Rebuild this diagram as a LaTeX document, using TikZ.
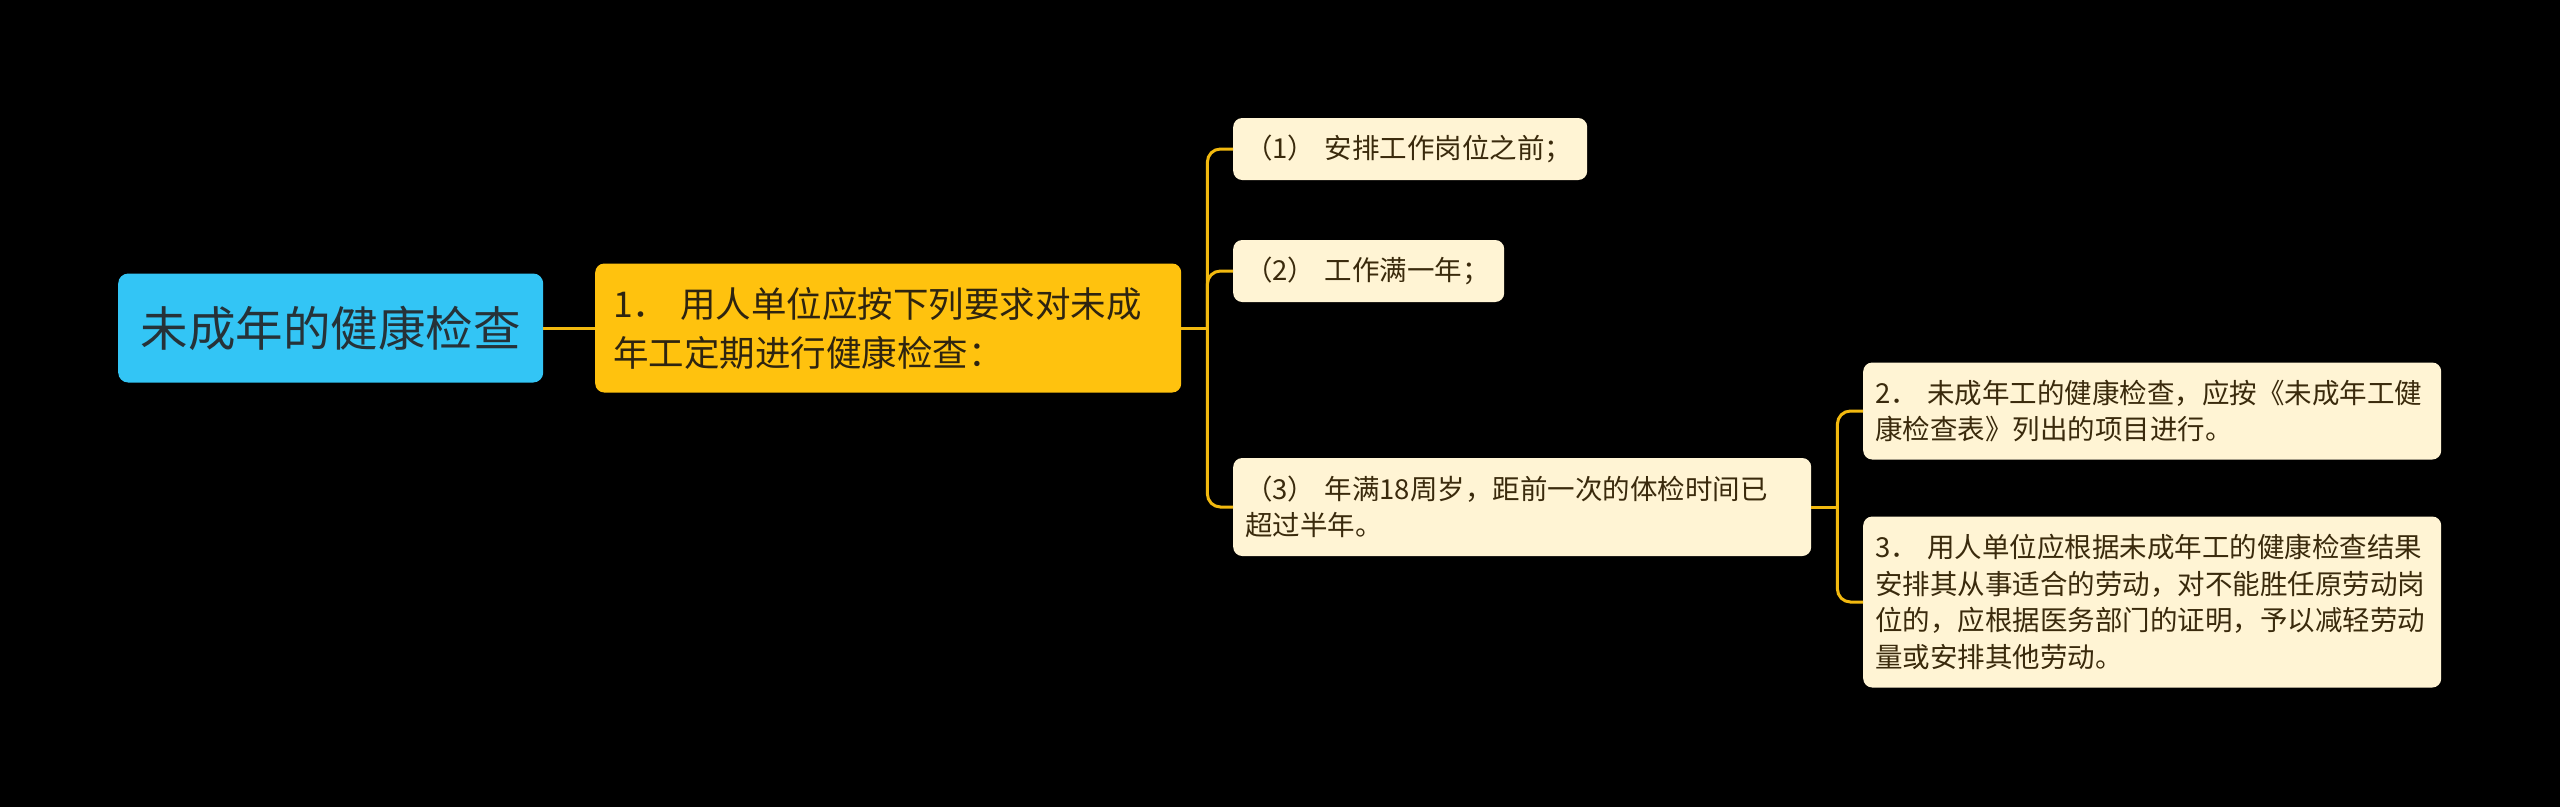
\documentclass[tikz,border=0pt]{standalone}
\usepackage{fontspec}
\setmainfont{Noto Sans CJK SC}
\definecolor{bgc}{HTML}{000000}
\definecolor{rootfill}{HTML}{33C5F5}
\definecolor{roottext}{HTML}{263238}
\definecolor{mainfill}{HTML}{FFC20E}
\definecolor{maintext}{HTML}{2E2410}
\definecolor{leaffill}{HTML}{FFF4D4}
\definecolor{leaftext}{HTML}{3A2A0C}
\definecolor{linec}{HTML}{F2B90F}
\tikzset{
  rootbox/.style={fill=rootfill, text=roottext, rounded corners=10pt, inner sep=0pt,
    font=\fontsize{47.5}{56}\selectfont, anchor=west},
  mainbox/.style={fill=mainfill, text=maintext, rounded corners=9pt, inner xsep=18pt, inner ysep=0pt,
    font=\fontsize{35.5}{49}\selectfont, align=left, anchor=west},
  leafbox/.style={fill=leaffill, text=leaftext, rounded corners=9pt, inner xsep=12pt, inner ysep=0pt,
    font=\fontsize{27.5}{36.5}\selectfont, align=left, anchor=west},
  conn/.style={draw=linec, line width=3pt},
  bconn/.style={draw=linec, line width=3pt, rounded corners=13pt}
}
\begin{document}
\begin{tikzpicture}[x=1pt,y=-1pt]
\fill[bgc] (0,0) rectangle (2560,807);
\useasboundingbox (0,0) rectangle (2560,807);

\node[rootbox, minimum width=425pt, minimum height=109pt] (root) at (118,328) {未成年的健康检查};

\node[mainbox, minimum width=586pt, text width=550pt, minimum height=129pt] (n1) at (595,328)
  {1．\ 用人单位应按下列要求对未成\\年工定期进行健康检查：};

\node[leafbox, minimum width=354pt, text width=330pt, minimum height=62pt] (c1) at (1233,149)
  {（1） 安排工作岗位之前；};
\node[leafbox, minimum width=271pt, text width=247pt, minimum height=62pt] (c2) at (1233,271)
  {（2） 工作满一年；};
\node[leafbox, minimum width=578pt, text width=554pt, minimum height=98pt] (c3) at (1233,507)
  {（3） 年满18周岁，距前一次的体检时间已\\超过半年。};

\node[leafbox, minimum width=578pt, text width=554pt, minimum height=97pt] (d1) at (1863,411)
  {2．\ 未成年工的健康检查，应按《未成年工健\\康检查表》列出的项目进行。};
\node[leafbox, minimum width=578pt, text width=554pt, minimum height=171pt] (d2) at (1863,602)
  {3．\ 用人单位应根据未成年工的健康检查结果\\安排其从事适合的劳动，对不能胜任原劳动岗\\位的，应根据医务部门的证明，予以减轻劳动\\量或安排其他劳动。};

\draw[conn] (root.east) -- (n1.west);

\coordinate (j1) at ([xshift=26pt]n1.east);
\draw[conn] (n1.east) -- (j1);
\draw[bconn] (j1) |- (c1.west);
\draw[bconn] (j1) |- (c2.west);
\draw[bconn] (j1) |- (c3.west);

\coordinate (j2) at ([xshift=26pt]c3.east);
\draw[conn] (c3.east) -- (j2);
\draw[bconn] (j2) |- (d1.west);
\draw[bconn] (j2) |- (d2.west);
\end{tikzpicture}
\end{document}
